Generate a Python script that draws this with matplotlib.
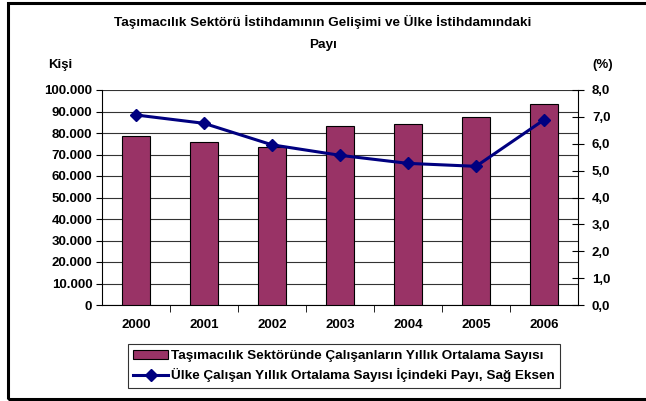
import matplotlib.pyplot as plt
from matplotlib.patches import Rectangle

plt.rcParams['font.family'] = ['Liberation Sans', 'DejaVu Sans']
plt.rcParams['font.weight'] = 'bold'

# data
years = ["2000", "2001", "2002", "2003", "2004", "2005", "2006"]
workers = [78800, 75700, 73300, 83100, 84200, 87400, 93300]
share = [7.07, 6.76, 5.96, 5.57, 5.27, 5.16, 6.89]

bar_label = "Taşımacılık Sektöründe Çalışanların Yıllık Ortalama Sayısı"
line_label = "Ülke Çalışan Yıllık Ortalama Sayısı İçindeki Payı, Sağ Eksen"

fig = plt.figure(figsize=(6.46, 4.01), dpi=100)
ax = fig.add_axes([102 / 646, 1 - 305 / 401, 476 / 646, 215 / 401])

x = range(len(years))
bars = ax.bar(x, workers, width=0.42, color="#993366", edgecolor="black",
              linewidth=0.8, zorder=3)
ax.set_xlim(-0.5, len(years) - 0.5)
ax.set_ylim(0, 100000)
ax.set_yticks(range(0, 100001, 10000))
ax.set_yticklabels(["0"] + [f"{v // 1000}.000" for v in range(10000, 100001, 10000)])
ax.yaxis.grid(True, color="#333333", linewidth=0.8, zorder=0)
ax.set_xticks(list(x))
ax.set_xticklabels(years)
ax.tick_params(axis="x", length=0, pad=10, labelsize=9.5)
ax.set_xticks([i + 0.5 for i in range(len(years) - 1)], minor=True)
ax.tick_params(axis="x", which="minor", direction="out", length=5)
ax.tick_params(axis="y", direction="out", length=4, pad=3, labelsize=9.5)
for s in ["top", "right"]:
    ax.spines[s].set_visible(False)

ax2 = ax.twinx()
line, = ax2.plot(list(x), share, color="#000080", linewidth=2.2, marker="D",
                 markersize=6.5, zorder=4)
ax2.set_ylim(0, 8)
ax2.set_yticks([i for i in range(9)])
ax2.set_yticklabels([f"{i},0" for i in range(9)])
ax2.tick_params(axis="y", direction="inout", length=8, pad=6, labelsize=9.5)
for s in ["top", "left", "bottom"]:
    ax2.spines[s].set_visible(False)

fig.text(0.5, 1 - 22 / 401, "Taşımacılık Sektörü İstihdamının Gelişimi ve Ülke İstihdamındaki",
         ha="center", va="center", fontsize=9.7, fontweight="bold")
fig.text(0.5, 1 - 45 / 401, "Payı", ha="center", va="center", fontsize=9.7, fontweight="bold")
fig.text(48 / 646, 1 - 65 / 401, "Kişi", ha="left", va="center", fontsize=9.5)
fig.text(613 / 646, 1 - 65 / 401, "(%)", ha="right", va="center", fontsize=9.5)

leg = fig.legend([bars, line], [bar_label, line_label],
                 loc="center", bbox_to_anchor=(344 / 646, 1 - 366 / 401),
                 fontsize=9.7, frameon=True, fancybox=False, edgecolor="black",
                 handlelength=2.6, handletextpad=0.2, borderpad=0.4,
                 labelspacing=0.45)
leg.get_frame().set_linewidth(0.8)

fig.patches.append(Rectangle((8 / 646, 2 / 401), 1.0, 396 / 401,
                             transform=fig.transFigure, fill=False,
                             edgecolor="black", linewidth=2.2))

fig.savefig("out.png", dpi=100)
